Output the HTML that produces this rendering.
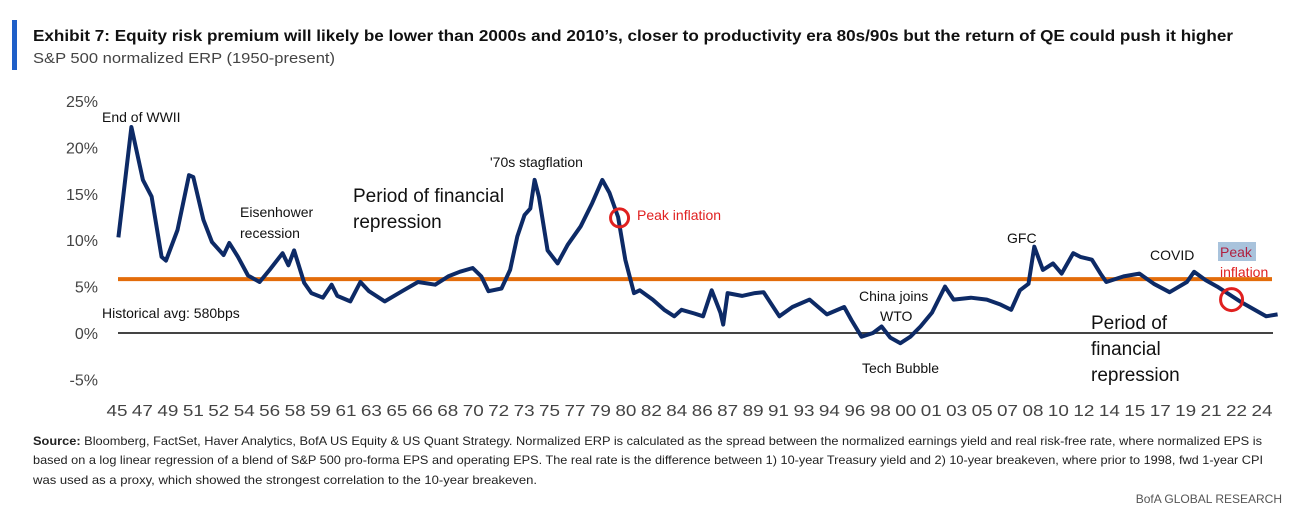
<!DOCTYPE html>
<html><head><meta charset="utf-8"><style>
html,body{margin:0;padding:0;background:#fff;}
svg{display:block;font-family:"Liberation Sans",sans-serif;}
</style></head><body>
<svg id="chart" width="1297" height="522" viewBox="0 0 1297 522">
<rect x="12" y="20" width="5" height="50" fill="#1f5fc8"/>
<text x="33" y="41" font-size="15.5" font-weight="bold" fill="#111" textLength="1200" lengthAdjust="spacingAndGlyphs">Exhibit 7: Equity risk premium will likely be lower than 2000s and 2010’s, closer to productivity era 80s/90s but the return of QE could push it higher</text>
<text x="33" y="63" font-size="15" fill="#444" textLength="302" lengthAdjust="spacingAndGlyphs">S&amp;P 500 normalized ERP (1950-present)</text>
<g id="yaxis"></g>
<g id="xaxis"></g>
<line x1="118" x2="1273" y1="333" y2="333" stroke="#444" stroke-width="2"/>
<g id="plot"></g>
<g font-size="14" fill="#111">
<text x="102" y="122">End of WWII</text>
<text x="240" y="217">Eisenhower</text>
<text x="240" y="238">recession</text>
<text x="353" y="202" font-size="19">Period of financial</text>
<text x="353" y="228" font-size="19">repression</text>
<text x="490" y="167">'70s stagflation</text>
<text x="637" y="220" fill="#e02020">Peak inflation</text>
<text x="102" y="318">Historical avg: 580bps</text>
<text x="859" y="301">China joins</text>
<text x="880" y="321">WTO</text>
<text x="862" y="373">Tech Bubble</text>
<text x="1007" y="243">GFC</text>
<text x="1150" y="260">COVID</text>
<rect x="1218" y="242" width="38" height="19" fill="#a9c3dc"/>
<text x="1220" y="257" fill="#b02040">Peak</text>
<text x="1220" y="277" fill="#e02020">inflation</text>
<text x="1091" y="329" font-size="19">Period of</text>
<text x="1091" y="355" font-size="19">financial</text>
<text x="1091" y="381" font-size="19">repression</text>
</g>
<g font-size="12" fill="#222">
<text x="33" y="445" textLength="1229" lengthAdjust="spacingAndGlyphs"><tspan font-weight="bold">Source:</tspan> Bloomberg, FactSet, Haver Analytics, BofA US Equity &amp; US Quant Strategy. Normalized ERP is calculated as the spread between the normalized earnings yield and real risk-free rate, where normalized EPS is</text>
<text x="33" y="464" textLength="1230" lengthAdjust="spacingAndGlyphs">based on a log linear regression of a blend of S&amp;P 500 pro-forma EPS and operating EPS. The real rate is the difference between 1) 10-year Treasury yield and 2) 10-year breakeven, where prior to 1998, fwd 1-year CPI</text>
<text x="33" y="484" textLength="504" lengthAdjust="spacingAndGlyphs">was used as a proxy, which showed the strongest correlation to the 10-year breakeven.</text>
</g>
<text x="1282" y="503" text-anchor="end" font-size="12" fill="#555">BofA GLOBAL RESEARCH</text>
</svg>
<script>
const yTicks=[-5,0,5,10,15,20,25];
const xTickLabels=["45","47","49","51","52","54","56","58","59","61","63","65","66","68","70","72","73","75","77","79","80","82","84","86","87","89","91","93","94","96","98","00","01","03","05","07","08","10","12","14","15","17","19","21","22","24"];
const histAvg=[5.8];
const years=[1945.1,1946.0,1946.8,1947.4,1948.1,1948.4,1949.2,1950.0,1950.3,1951.0,1951.6,1952.4,1952.8,1953.4,1954.1,1954.9,1955.6,1956.5,1956.9,1957.3,1958.0,1958.5,1959.3,1959.9,1960.3,1961.2,1961.9,1962.5,1963.6,1964.8,1965.9,1967.1,1968.0,1968.8,1969.7,1970.3,1970.8,1971.7,1972.3,1972.8,1973.3,1973.7,1974.0,1974.3,1974.9,1975.6,1976.3,1977.2,1978.0,1978.7,1979.2,1979.8,1980.3,1980.9,1981.3,1982.2,1983.0,1983.7,1984.2,1985.1,1985.7,1986.3,1986.9,1987.1,1987.4,1988.4,1989.3,1989.9,1990.7,1991.0,1991.9,1993.1,1994.3,1995.5,1996.0,1996.7,1997.5,1998.1,1998.7,1999.4,2000.1,2000.8,2001.6,2002.5,2003.1,2004.3,2005.4,2006.3,2007.1,2007.7,2008.3,2008.7,2009.3,2010.0,2010.6,2011.4,2011.9,2012.7,2013.3,2013.7,2014.9,2016.0,2017.0,2018.1,2019.3,2019.8,2020.6,2021.4,2022.4,2023.1,2024.0,2024.8,2025.6];
const erp=[10.3,22.2,16.5,14.7,8.2,7.8,11.1,17.0,16.8,12.2,9.8,8.4,9.7,8.2,6.2,5.5,6.8,8.6,7.3,8.9,5.4,4.3,3.8,5.2,4.0,3.4,5.5,4.5,3.4,4.5,5.5,5.2,6.1,6.6,7.0,6.1,4.5,4.8,6.8,10.4,12.7,13.4,16.5,14.7,8.9,7.5,9.5,11.5,14.0,16.5,15.1,12.5,7.9,4.3,4.6,3.6,2.5,1.8,2.5,2.1,1.8,4.6,2.2,0.9,4.3,4.0,4.3,4.4,2.5,1.8,2.8,3.6,2.0,2.8,1.4,-0.4,0,0.7,-0.5,-1.1,-0.4,0.7,2.2,5.0,3.6,3.8,3.6,3.1,2.5,4.6,5.3,9.3,6.8,7.5,6.4,8.6,8.2,7.9,6.4,5.5,6.1,6.4,5.3,4.4,5.5,6.6,5.7,5.0,4.0,3.3,2.5,1.8,2.0];
const circleYears=[1979.9,2022.4];
const circleVals=[12.4,3.6];

const NS="http://www.w3.org/2000/svg";
const yS=v=>333-v*9.28;
const xS=yr=>117+(yr-1945)*14.4;
function mk(tag,attrs,parent){const e=document.createElementNS(NS,tag);for(const k in attrs)e.setAttribute(k,attrs[k]);parent.appendChild(e);return e;}
const yax=document.getElementById('yaxis');
yTicks.forEach(v=>{const t=mk('text',{x:98,y:yS(v)+6,'text-anchor':'end','font-size':16,fill:'#444'},yax);t.textContent=v+'%';

});
const xax=document.getElementById('xaxis');
const step=(1262-117)/(xTickLabels.length-1);
xTickLabels.forEach((l,i)=>{const t=mk('text',{x:117+i*step,y:416,'text-anchor':'middle','font-size':16,fill:'#444',textLength:21,lengthAdjust:'spacingAndGlyphs'},xax);t.textContent=l;

});
const plot=document.getElementById('plot');
const avg=mk('line',{x1:118,x2:1272,y1:yS(histAvg[0]),y2:yS(histAvg[0]),stroke:'#e36c0a','stroke-width':4},plot);


const d=years.map((yr,i)=>(i?'L':'M')+xS(yr).toFixed(1)+','+yS(erp[i]).toFixed(1)).join(' ');
const p=mk('path',{d:d,fill:'none',stroke:'#0d2a66','stroke-width':4,'stroke-linejoin':'round'},plot);


circleYears.forEach((yr,i)=>{const c=mk('circle',{cx:xS(yr),cy:yS(circleVals[i]),r:i?11:9,fill:'none',stroke:'#e0201f','stroke-width':3},plot);

});
</script>
</body></html>
